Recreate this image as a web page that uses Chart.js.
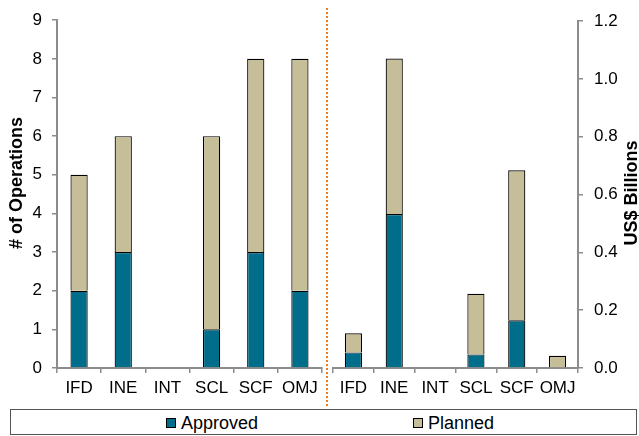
<!DOCTYPE html>
<html>
<head>
<meta charset="utf-8">
<script src="https://cdn.jsdelivr.net/npm/chart.js@4"></script>
<style>
  body { margin: 0; background: #fff; }
  #wrap { position: relative; width: 639px; height: 436px; overflow: hidden; font-family: "Liberation Sans", Arial, sans-serif; }
  canvas { position: absolute; top: 0; }
  #opsChart { left: 0; }
  #usdChart { left: 327px; }
  #divider { position: absolute; left: 326px; top: 8px; height: 398px; border-left: 2px dotted #f07d1a; }
  #legend { position: absolute; left: 10px; top: 409px; width: 625px; height: 24px; border: 1px solid #555; }
  .item { position: absolute; top: 3px; font-size: 18px; line-height: 20px; color: #000; }
  .swatch { display: inline-block; width: 8px; height: 8px; border: 1px solid #000; margin-right: 5px; vertical-align: 1px; }
</style>
</head>
<body>
<div id="wrap">
  <canvas id="opsChart" width="327" height="408"></canvas>
  <canvas id="usdChart" width="312" height="408"></canvas>
  <div id="divider"></div>
  <div id="legend"></div>
</div>
<script>
const categories = ['IFD', 'INE', 'INT', 'SCL', 'SCF', 'OMJ'];
const seriesNames = ['Approved', 'Planned'];
const seriesColors = ['#006e8a', '#c5be98'];

// number of operations
const opsApproved = [2, 3, 0, 1, 3, 2];
const opsPlanned = [3, 3, 0, 5, 5, 6];
const opsMax = 9;
const opsStep = 1;

// amounts in US$ billions
const usdApproved = [0.054, 0.533, 0, 0.047, 0.165, 0.003];
const usdPlanned = [0.066, 0.538, 0, 0.210, 0.519, 0.039];
const usdMax = 1.2;
const usdStep = 0.2;

const FONT = '"Liberation Sans", Arial, sans-serif';
const AXIS = '#8c8c8c';

// rotated axis caption, placed by hand so it can sit off-centre
const sideTitle = {
  id: 'sideTitle',
  afterDraw(chart, args, opts) {
    if (!opts.text) return;
    const ctx = chart.ctx;
    ctx.save();
    ctx.translate(opts.x, opts.y);
    ctx.rotate(-Math.PI / 2);
    ctx.font = 'bold 18px ' + FONT;
    ctx.fillStyle = '#000';
    ctx.textAlign = 'center';
    ctx.textBaseline = 'middle';
    ctx.fillText(opts.text, 0, 0);
    ctx.restore();
  }
};

function makePanel(id, approved, planned, cfg) {
  return new Chart(document.getElementById(id), {
    type: 'bar',
    data: {
      labels: categories,
      datasets: [
        { label: seriesNames[0], data: approved, backgroundColor: seriesColors[0] },
        { label: seriesNames[1], data: planned, backgroundColor: seriesColors[1] }
      ]
    },
    options: {
      responsive: false,
      animation: false,
      devicePixelRatio: 1,
      layout: { padding: cfg.padding },
      datasets: {
        bar: {
          borderColor: '#000',
          borderWidth: 1.2,
          categoryPercentage: 1,
          barPercentage: cfg.barPct
        }
      },
      plugins: {
        legend: { display: false },
        tooltip: { enabled: false },
        sideTitle: cfg.title
      },
      scales: {
        x: {
          stacked: true,
          grid: { offset: true, drawOnChartArea: false, tickLength: 5, color: AXIS, lineWidth: 1.5 },
          border: { color: AXIS, width: 2 },
          ticks: { font: { family: FONT, size: 17 }, color: '#000', padding: 5, maxRotation: 0 },
          afterFit: s => { s.height = 40; }
        },
        y: {
          stacked: true,
          position: cfg.side,
          min: 0,
          max: cfg.max,
          grid: { drawOnChartArea: false, tickLength: 5, color: AXIS, lineWidth: 1.5 },
          border: { color: AXIS, width: 2 },
          ticks: {
            stepSize: cfg.step,
            font: { family: FONT, size: 17 },
            color: '#000',
            padding: cfg.tickPad,
            callback: cfg.fmt
          },
          afterFit: s => { s.width = cfg.axisWidth; }
        }
      }
    },
    plugins: [sideTitle]
  });
}

makePanel('opsChart', opsApproved, opsPlanned, {
  side: 'left', max: opsMax, step: opsStep, axisWidth: 57, tickPad: 10, barPct: 0.39,
  padding: { top: 19, right: 5, left: 0, bottom: 0 },
  fmt: v => v,
  title: { text: '# of Operations', x: 17, y: 183 }
});

makePanel('usdChart', usdApproved, usdPlanned, {
  side: 'right', max: usdMax, step: usdStep, axisWidth: 61, tickPad: 11, barPct: 0.42,
  padding: { top: 14, right: 0, left: 6, bottom: 0 },
  fmt: v => Number(v).toFixed(1),
  title: { text: 'US$ Billions', x: 305, y: 193 }
});

// shared legend under both panels
const legend = document.getElementById('legend');
const legendLeft = [155, 402];
seriesNames.forEach((name, i) => {
  const el = document.createElement('div');
  el.className = 'item';
  el.style.left = legendLeft[i] + 'px';
  el.innerHTML = '<span class="swatch" style="background:' + seriesColors[i] + '"></span>' + name;
  legend.appendChild(el);
});
</script>
</body>
</html>
